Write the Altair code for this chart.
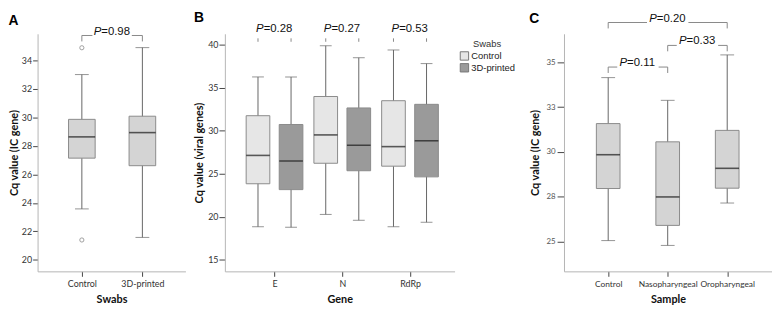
import json
import altair as alt
import pandas as pd

# ---------------- Panel A: IC gene Cq by swab type ----------------
a_groups = ["Control", "3D-printed"]
a_lower = [23.58, 21.58]
a_q1 = [27.14, 26.61]
a_median = [28.63, 28.93]
a_q3 = [29.86, 30.08]
a_upper = [33.0, 34.89]
a_out_group = ["Control", "Control"]
a_out_value = [34.88, 21.4]
a_p_from = ["Control"]
a_p_to = ["3D-printed"]
a_p_text = ["=0.98"]
a_p_level = [35.74]

# ---------------- Panel B: viral genes Cq by gene and swab ----------------
b_genes = ["E", "N", "RdRp"]
b_swabs = ["Control", "3D-printed"]
b_ctrl_lower = [18.85, 20.28, 18.85]
b_ctrl_q1 = [23.84, 26.22, 25.88]
b_ctrl_median = [27.13, 29.51, 28.15]
b_ctrl_q3 = [31.74, 33.97, 33.48]
b_ctrl_upper = [36.24, 39.86, 39.37]
b_3d_lower = [18.78, 19.60, 19.37]
b_3d_q1 = [23.16, 25.35, 24.64]
b_3d_median = [26.49, 28.30, 28.83]
b_3d_q3 = [30.72, 32.64, 33.06]
b_3d_upper = [36.24, 38.47, 37.79]
b_p_text = ["=0.28", "=0.27", "=0.53"]
b_p_level = [41.37, 41.37, 41.37]
b_leg_level = [40.32, 40.32, 40.32]

# ---------------- Panel C: IC gene Cq by sample ----------------
c_samples = ["Control", "Nasopharyngeal", "Oropharyngeal"]
c_lower = [25.04, 24.77, 27.14]
c_q1 = [27.95, 25.89, 27.97]
c_median = [29.84, 27.48, 29.08]
c_q3 = [31.58, 30.56, 31.20]
c_upper = [34.15, 32.88, 35.42]
c_p_from = ["Control", "Nasopharyngeal", "Control"]
c_p_to = ["Nasopharyngeal", "Oropharyngeal", "Oropharyngeal"]
c_p_text = ["=0.11", "=0.33", "=0.20"]
c_p_level = [34.74, 35.95, 37.23]

DODGE = 0.244
LABEL_FONT = "Lato"
P_FONT = "Liberation Sans"
PLOT_H = 241


def idx(cats, c):
    return cats.index(c) + 1


def label_expr(cats):
    return json.dumps(cats) + "[datum.value - 1]"


def make_axes(cats, ytitle, xtitle, yvals, yfmt, ylab_size, ylab_color,
              ytick=5, ylabpad=1, ytitlepad=2, xlab_size=9):
    xaxis = alt.Axis(values=list(range(1, len(cats) + 1)), labelExpr=label_expr(cats),
                     title=xtitle, grid=False, domainColor="#b5b5b5", tickColor="#444",
                     tickSize=5, labelFont=LABEL_FONT, labelFontSize=xlab_size, labelColor="#333",
                     labelPadding=3, labelOverlap=False, titleFont=LABEL_FONT, titleFontSize=11,
                     titleFontWeight="bold", titleColor="#111", titlePadding=6)
    yaxis = alt.Axis(values=yvals, format=yfmt, title=ytitle, grid=False,
                     domainColor="#b5b5b5", tickColor="#444", tickSize=ytick,
                     labelFont=LABEL_FONT, labelFontSize=ylab_size, labelColor=ylab_color,
                     labelPadding=ylabpad, labelOverlap=False, titleFont=LABEL_FONT, titleFontSize=11,
                     titleFontWeight="bold", titleColor="#111", titlePadding=ytitlepad)
    return xaxis, yaxis


def box_panel(df, sx, sy, xaxis, yaxis, box_w, cap_w, fill=None, color=None):
    def X(f="pos"):
        return alt.X(f + ":Q", scale=sx, axis=xaxis)

    def Y(f):
        return alt.Y(f + ":Q", scale=sy, axis=yaxis)

    base = alt.Chart(df)
    whisk = base.mark_rule(color="#666", strokeWidth=1).encode(x=X(), y=Y("lower"), y2="upper")
    bar_kwargs = dict(size=box_w, stroke="#8a8a8a", strokeWidth=1)
    if fill is not None:
        bar_kwargs["fill"] = fill
    box = base.mark_bar(**bar_kwargs).encode(x=X(), y=Y("q1"), y2="q3")
    if color is not None:
        box = box.encode(color=color)
    cap_lo = base.mark_tick(orient="horizontal", size=cap_w, thickness=1, color="#666").encode(x=X(), y=Y("lower"))
    cap_hi = base.mark_tick(orient="horizontal", size=cap_w, thickness=1, color="#666").encode(x=X(), y=Y("upper"))
    med = base.mark_tick(orient="horizontal", size=box_w, thickness=1.6, color="#1a1a1a").encode(x=X(), y=Y("median"))
    return [whisk, box, cap_lo, cap_hi, med], X, Y


def bracket_layers(ann, X, Y, gap):
    b = alt.Chart(ann)
    left = b.mark_rule(color="#888", strokeWidth=1, x2Offset=-gap).encode(x=X("x0"), x2="mid", y=Y("level"))
    right = b.mark_rule(color="#888", strokeWidth=1, xOffset=gap).encode(x=X("mid"), x2="x1", y=Y("level"))
    leg0 = b.mark_rule(color="#888", strokeWidth=1, y2Offset=6).encode(x=X("x0"), y=Y("level"), y2="level")
    leg1 = b.mark_rule(color="#888", strokeWidth=1, y2Offset=6).encode(x=X("x1"), y=Y("level"), y2="level")
    return [left, right, leg0, leg1]


def p_text_layers(ann, X, Y):
    b = alt.Chart(ann)
    pt = b.mark_text(text="P", font=P_FONT, fontSize=11.5, fontStyle="italic", align="right",
                     baseline="alphabetic", dx=-11, dy=-1, color="#111").encode(x=X("mid"), y=Y("level"))
    vt = b.mark_text(font=P_FONT, fontSize=11.5, align="left", baseline="alphabetic",
                     dx=-11, dy=-1, color="#111").encode(x=X("mid"), y=Y("level"), text="txt:N")
    return [pt, vt]


def title(t, offset):
    return alt.TitleParams(t, anchor="start", frame="bounds", font=P_FONT, fontSize=14,
                           fontWeight="bold", color="#000", offset=offset)


# ---------- A ----------
dfa = pd.DataFrame({"grp": a_groups, "pos": [idx(a_groups, g) for g in a_groups],
                    "lower": a_lower, "q1": a_q1, "median": a_median, "q3": a_q3, "upper": a_upper})
outa = pd.DataFrame({"pos": [idx(a_groups, g) for g in a_out_group], "val": a_out_value})
anna = pd.DataFrame({"x0": [idx(a_groups, g) for g in a_p_from], "x1": [idx(a_groups, g) for g in a_p_to],
                     "txt": a_p_text, "level": a_p_level})
anna["mid"] = (anna["x0"] + anna["x1"]) / 2

sxa = alt.Scale(domain=[0.35, 2.63], nice=False, zero=False)
sya = alt.Scale(domain=[19.2, 35.86], nice=False, zero=False)
xa, ya = make_axes(a_groups, "Cq value (IC gene)", "Swabs", list(range(20, 35, 2)), "d", 9, "#333")
la, XA, YA = box_panel(dfa, sxa, sya, xa, ya, 27, 14, fill="#d4d4d4")
outl = alt.Chart(outa).mark_point(shape="circle", size=18, filled=False, color="#777", strokeWidth=1).encode(
    x=XA(), y=YA("val"))
chart_a = alt.layer(*la, outl, *bracket_layers(anna, XA, YA, 20), *p_text_layers(anna, XA, YA)).properties(
    width=150, height=PLOT_H, title=title("A", -2))

# ---------- B ----------
rows = []
for i, g in enumerate(b_genes):
    rows.append({"gene": g, "swab": "Control", "pos": idx(b_genes, g) - DODGE, "lower": b_ctrl_lower[i],
                 "q1": b_ctrl_q1[i], "median": b_ctrl_median[i], "q3": b_ctrl_q3[i], "upper": b_ctrl_upper[i]})
    rows.append({"gene": g, "swab": "3D-printed", "pos": idx(b_genes, g) + DODGE, "lower": b_3d_lower[i],
                 "q1": b_3d_q1[i], "median": b_3d_median[i], "q3": b_3d_q3[i], "upper": b_3d_upper[i]})
dfb = pd.DataFrame(rows)
annb = pd.DataFrame({"mid": [idx(b_genes, g) for g in b_genes], "txt": b_p_text, "level": b_p_level,
                     "leg": b_leg_level})
annb["x0"] = annb["mid"] - DODGE
annb["x1"] = annb["mid"] + DODGE

sxb = alt.Scale(domain=[0.34, 3.585], nice=False, zero=False)
syb = alt.Scale(domain=[13.67, 41.25], nice=False, zero=False)
xb, yb = make_axes(b_genes, "Cq value (viral genes)", "Gene", list(range(15, 41, 5)), "d", 9, "#333",
                   ytick=6, ylabpad=1, ytitlepad=3)
color_b = alt.Color("swab:N", scale=alt.Scale(domain=b_swabs, range=["#e6e6e6", "#9a9a9a"]),
                    legend=alt.Legend(title="Swabs", orient="right", offset=0, padding=5,
                                      titleFont=P_FONT, titleFontSize=9.5, titleFontWeight="normal",
                                      titleColor="#333", titleAnchor="middle", titlePadding=3,
                                      labelFont=P_FONT, labelFontSize=9.5, labelColor="#222",
                                      labelOffset=2, symbolType="square", symbolSize=72,
                                      symbolStrokeColor="#777", symbolStrokeWidth=1, rowPadding=-3))
lb, XB, YB = box_panel(dfb, sxb, syb, xb, yb, 24, 12, color=color_b)
bb = alt.Chart(annb)
legs_b = [bb.mark_rule(color="#888", strokeWidth=1, y2Offset=-3.5).encode(x=XB(f), y=YB("leg"), y2="leg")
          for f in ("x0", "x1")]
chart_b = alt.layer(*lb, *legs_b, *p_text_layers(annb, XB, YB)).properties(
    width=233, height=PLOT_H, title=title("B", -2))

# ---------- C ----------
dfc = pd.DataFrame({"grp": c_samples, "pos": [idx(c_samples, g) for g in c_samples],
                    "lower": c_lower, "q1": c_q1, "median": c_median, "q3": c_q3, "upper": c_upper})
annc = pd.DataFrame({"x0": [idx(c_samples, g) for g in c_p_from], "x1": [idx(c_samples, g) for g in c_p_to],
                     "txt": c_p_text, "level": c_p_level})
annc["mid"] = (annc["x0"] + annc["x1"]) / 2

sxc = alt.Scale(domain=[0.34, 3.67], nice=False, zero=False)
syc = alt.Scale(domain=[23.32, 36.6], nice=False, zero=False)
xc, yc = make_axes(c_samples, "Cq value (IC gene)", "Sample", [25, 27.5, 30, 32.5, 35], ".0f", 8, "#555",
                   ytick=7, ylabpad=2, ytitlepad=6, xlab_size=8.5)
lc, XC, YC = box_panel(dfc, sxc, syc, xc, yc, 24, 14, fill="#d4d4d4")
chart_c = alt.layer(*lc, *bracket_layers(annc, XC, YC, 21), *p_text_layers(annc, XC, YC)).properties(
    width=211, height=PLOT_H, title=title("C", -14))

chart = alt.hconcat(chart_a, chart_b, chart_c, spacing=8).resolve_scale(color="independent").configure_view(
    strokeWidth=0).properties(padding={"left": 0, "top": 0, "right": 0, "bottom": 0}, background="white")

chart.save("out.html", embed_options={"renderer": "svg", "actions": False})
